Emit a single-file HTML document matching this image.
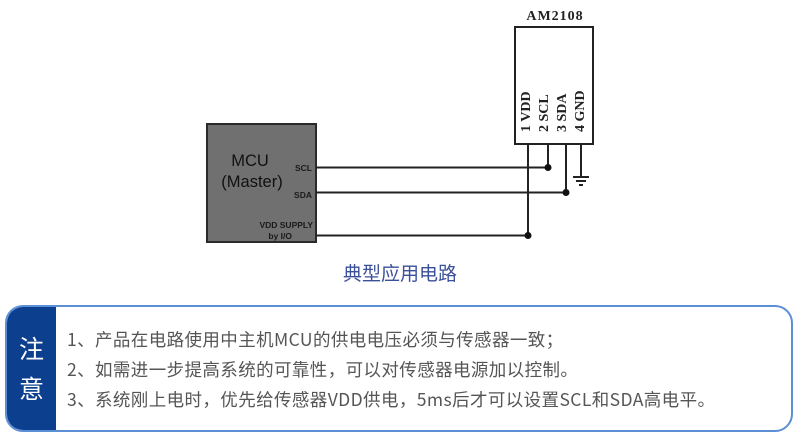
<!DOCTYPE html>
<html>
<head>
<meta charset="utf-8">
<style>
  html,body{margin:0;padding:0;background:#fff;}
  body{width:800px;height:440px;position:relative;overflow:hidden;font-family:"Liberation Sans","Noto Sans CJK SC",sans-serif;}
  svg{position:absolute;left:0;top:0;}
  .note{position:absolute;left:5px;top:305px;width:788px;height:127px;border:2px solid #5b8fd6;border-radius:18px;box-sizing:border-box;background:#fff;overflow:hidden;}
  .tag{position:absolute;left:0;top:0;width:49px;height:100%;background:#0d3f8f;color:#fff;font-size:25px;font-family:"Noto Sans CJK SC",sans-serif;text-align:center;}
  .tag span{position:absolute;left:0;width:49px;line-height:30px;}
  .txt{position:absolute;left:60px;font-size:17.5px;letter-spacing:0.4px;color:#555;font-family:"Noto Sans CJK SC",sans-serif;white-space:nowrap;line-height:22px;}
</style>
</head>
<body>
<svg width="800" height="440" viewBox="0 0 800 440">
  <!-- AM2108 -->
  <text x="555" y="20" font-family="Liberation Serif, serif" font-size="14" font-weight="bold" fill="#222" text-anchor="middle" letter-spacing="1">AM2108</text>
  <rect x="515" y="27" width="78" height="117" fill="#fff" stroke="#222" stroke-width="2"/>
  <g font-family="Liberation Serif, serif" font-size="14" font-weight="bold" fill="#222">
    <text transform="translate(530,132) rotate(-90)">1 VDD</text>
    <text transform="translate(548,132) rotate(-90)">2 SCL</text>
    <text transform="translate(566,132) rotate(-90)">3 SDA</text>
    <text transform="translate(584,132) rotate(-90)">4 GND</text>
  </g>
  <!-- MCU -->
  <rect x="207" y="124" width="109" height="118" fill="#707070" stroke="#2a2a2a" stroke-width="2"/>
  <text x="250" y="166" font-family="Liberation Sans, sans-serif" font-size="16.5" fill="#111" text-anchor="middle">MCU</text>
  <text x="252" y="187" font-family="Liberation Sans, sans-serif" font-size="16.5" fill="#111" text-anchor="middle">(Master)</text>
  <g font-family="Liberation Sans, sans-serif" font-size="8.5" font-weight="bold" fill="#1a1a1a" text-anchor="end">
    <text x="312" y="171">SCL</text>
    <text x="312" y="198">SDA</text>
    <text x="313" y="228">VDD SUPPLY</text>
    <text x="292" y="239">by I/O</text>
  </g>
  <!-- wires -->
  <g stroke="#222" stroke-width="2" fill="none">
    <polyline points="316,167.5 548,167.5 548,144"/>
    <polyline points="316,192.5 566,192.5 566,144"/>
    <polyline points="316,235.5 528,235.5 528,144"/>
    <line x1="581" y1="144" x2="581" y2="177"/>
    <line x1="573" y1="177" x2="589" y2="177"/>
    <line x1="576" y1="181" x2="586" y2="181"/>
    <line x1="579" y1="185" x2="583" y2="185"/>
  </g>
  <g fill="#111">
    <circle cx="548" cy="167.5" r="3.5"/>
    <circle cx="566" cy="192.5" r="3.5"/>
    <circle cx="528" cy="235.5" r="3.5"/>
  </g>
  <text x="400" y="280" font-family="Noto Sans CJK SC, sans-serif" font-size="19" fill="#3b509a" text-anchor="middle">典型应用电路</text>
</svg>

<div class="note">
  <div class="tag"><span style="top:26px;">注</span><span style="top:66px;">意</span></div>
  <div class="txt" style="top:22px;">1、产品在电路使用中主机MCU的供电电压必须与传感器一致；</div>
  <div class="txt" style="top:52px;">2、如需进一步提高系统的可靠性，可以对传感器电源加以控制。</div>
  <div class="txt" style="top:82px;">3、系统刚上电时，优先给传感器VDD供电，5ms后才可以设置SCL和SDA高电平。</div>
</div>
</body>
</html>
